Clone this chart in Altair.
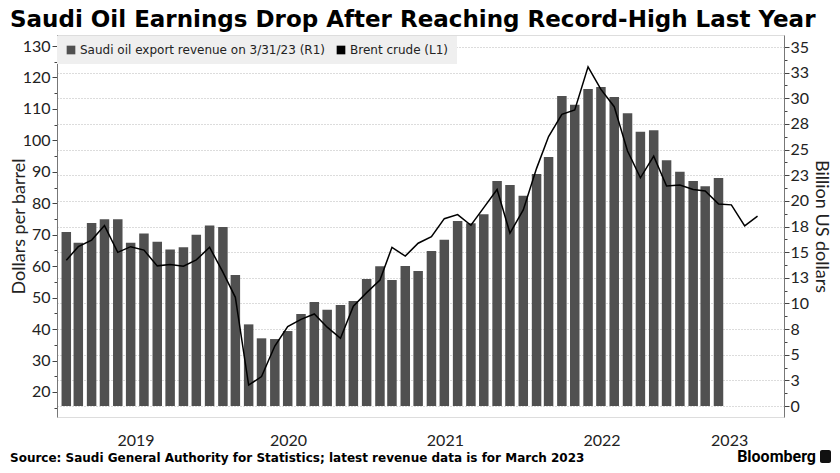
import altair as alt
import pandas as pd

# ---------------- data ----------------
title_text = "Saudi Oil Earnings Drop After Reaching Record-High Last Year"
source_text = "Source: Saudi General Authority for Statistics; latest revenue data is for March 2023"
rev_label = "Saudi oil export revenue on 3/31/23 (R1)"
brent_label = "Brent crude (L1)"

# Saudi oil export revenue, billion US$, monthly Jan 2019 - Mar 2023
rev_values = [
    16.96, 15.92, 17.84, 18.20, 18.20, 15.92, 16.83, 16.02, 15.27, 15.47, 16.70, 17.61,
    17.45, 12.77, 7.96, 6.60, 6.53, 7.31, 8.97, 10.14, 9.39, 9.85, 10.24, 12.38,
    13.62, 12.28, 13.65, 13.16, 15.11, 16.22, 18.04, 17.81, 18.69, 21.94, 21.55, 20.51,
    22.62, 24.28, 30.22, 29.38, 30.91, 31.10, 30.13, 28.53, 26.75, 26.88, 23.95, 22.85,
    21.94, 21.42, 22.23,
]
# Brent crude, $/bbl, month-end Jan 2019 - Jun 2023
brent_values = [
    61.9, 66.2, 68.3, 72.9, 64.4, 66.2, 65.1, 60.1, 60.5, 60.0, 62.0, 66.0,
    58.1, 50.1, 22.2, 24.9, 34.6, 40.8, 43.1, 44.8, 40.6, 37.1, 47.3, 51.6,
    55.6, 66.0, 63.2, 67.3, 69.4, 75.1, 76.4, 73.0, 78.6, 84.4, 70.5, 77.9,
    91.1, 101.2, 108.3, 109.7, 123.4, 116.2, 110.7, 96.6, 88.1, 95.0, 85.5, 85.8,
    84.4, 83.9, 79.8, 79.5, 72.8, 75.9,
]
year_labels = ["2019", "2020", "2021", "2022", "2023"]
x_domain = ["2019-01-21", "2023-08-19"]
left_domain = [12.05, 133.5]
right_domain = [-1.07, 36.17]


def month_ends(n):
    starts = pd.date_range("2019-02-01", periods=n, freq="MS")
    return [(d - pd.Timedelta(days=1)).strftime("%Y-%m-%d") for d in starts]


rev_df = pd.DataFrame({"date": month_ends(len(rev_values)), "value": rev_values,
                       "series": rev_label})
brent_df = pd.DataFrame({"date": month_ends(len(brent_values)), "value": brent_values})

x0 = pd.Timestamp(x_domain[0])
x1 = pd.Timestamp(x_domain[1])
bounds = [x0] + [pd.Timestamp(f"{y}-01-01") for y in year_labels[1:]] + [x1]
mids = [(bounds[i] + (bounds[i + 1] - bounds[i]) / 2).strftime("%Y-%m-%dT%H:%M:%SZ")
        for i in range(len(year_labels))]
year_df = pd.DataFrame({"date": mids, "label": year_labels})

# ---------------- style ----------------
AX_FONT = "Lato"
TXT = "#222222"


def dt(s):
    t = pd.Timestamp(s)
    return alt.DateTime(year=t.year, month=t.month, date=t.day, utc=True)


x_scale = alt.Scale(type="utc", domain=[dt(x_domain[0]), dt(x_domain[1])])

bars = alt.Chart(rev_df).mark_bar(size=9.5).encode(
    x=alt.X("date:T", scale=x_scale,
            axis=alt.Axis(values=[dt(f"{y}-01-01") for y in year_labels[1:]],
                          labels=False, ticks=False, domain=False, grid=True,
                          gridDash=[2, 2], gridColor="#c8c8c8", title=None)),
    y=alt.Y("value:Q", scale=alt.Scale(domain=right_domain, zero=False, nice=False),
            axis=alt.Axis(orient="right",
                          values=[i * 1.25 for i in range(29)],
                          labelExpr="datum.value % 2.5 === 0 ? format(round(datum.value), 'd') : ''",
                          labelOverlap=False,
                          tickSize={"condition": {"test": "datum.value % 2.5 === 0", "value": 5}, "value": 3},
                          grid=True,
                          gridOpacity={"condition": {"test": "datum.value % 2.5 === 0", "value": 1}, "value": 0},
                          gridDash=[1, 2], gridColor="#b8b8b8",
                          domainColor="#777777", tickColor="#444444",
                          labelFont=AX_FONT, labelFontSize=16, labelColor=TXT, labelPadding=1,
                          title="Billion US dollars", titleFont=AX_FONT, titleFontSize=18,
                          titleFontWeight="normal", titleColor=TXT, titleAngle=90,
                          titleX=36, titleY=191, titleAlign="center", titleBaseline="middle")),
    color=alt.Color("series:N",
                    scale=alt.Scale(domain=[rev_label, brent_label], range=["#505050", "#000000"]),
                    legend=alt.Legend(orient="none", legendX=0, legendY=1, direction="horizontal",
                                      title=None, fillColor="#efefef", padding=8,
                                      symbolType="square", symbolSize=75, symbolStrokeWidth=0,
                                      labelFont="DejaVu Sans", labelFontSize=12, labelColor=TXT,
                                      labelLimit=0, labelOffset=3, columnPadding=10)),
)

line = alt.Chart(brent_df).mark_line(color="black", strokeWidth=1.5).encode(
    x=alt.X("date:T", scale=x_scale, axis=None),
    y=alt.Y("value:Q", scale=alt.Scale(domain=left_domain, zero=False, nice=False),
            axis=alt.Axis(orient="left",
                          values=list(range(15, 135, 5)),
                          format="d",
                          labelExpr="datum.value % 10 === 0 ? datum.label : ''",
                          labelOverlap=False,
                          tickSize={"condition": {"test": "datum.value % 10 === 0", "value": 5}, "value": 3},
                          grid=False, domainColor="#777777", tickColor="#444444",
                          labelFont=AX_FONT, labelFontSize=16, labelColor=TXT, labelPadding=2,
                          title="Dollars per barrel", titleFont=AX_FONT, titleFontSize=18,
                          titleFontWeight="normal", titleColor=TXT, titleAngle=-90,
                          titleX=-38, titleY=191, titleAlign="center", titleBaseline="middle")),
)

years = alt.Chart(year_df).mark_text(font=AX_FONT, fontSize=16, color=TXT,
                                     baseline="middle").encode(
    x=alt.X("date:T", scale=x_scale, axis=None),
    y=alt.value(406),
    text="label:N",
)

title = alt.Chart(pd.DataFrame({"t": [title_text]})).mark_text(
    align="left", baseline="alphabetic", font="DejaVu Sans", fontWeight="bold",
    fontSize=23, color="#000000").encode(text="t:N", x=alt.value(-47), y=alt.value(-8))

source = alt.Chart(pd.DataFrame({"t": [source_text]})).mark_text(
    align="left", baseline="alphabetic", font="DejaVu Sans", fontWeight="bold",
    fontSize=12, color="#000000").encode(text="t:N", x=alt.value(-47), y=alt.value(427))

brand = alt.Chart(pd.DataFrame({"t": ["Bloomberg"]})).mark_text(
    align="right", baseline="alphabetic", font="Roboto", fontWeight="bold",
    fontSize=16, color="#000000").encode(text="t:N", x=alt.value(759), y=alt.value(427))

logo = alt.Chart(pd.DataFrame({"t": ["logo"]})).mark_rect(
    color="#111111", cornerRadius=2).encode(
    x=alt.value(763), x2=alt.value(774), y=alt.value(415), y2=alt.value(428))

chart = alt.layer(bars, line, years, title, source, brand, logo).resolve_scale(
    y="independent"
).properties(
    width=727, height=382,
    autosize=alt.AutoSizeParams(type="none"),
    padding={"left": 49, "top": 27, "right": 48, "bottom": 48},
).configure_view(stroke=None).configure(background="white")

chart.save("out.html", embed_options={"renderer": "svg", "actions": False})
